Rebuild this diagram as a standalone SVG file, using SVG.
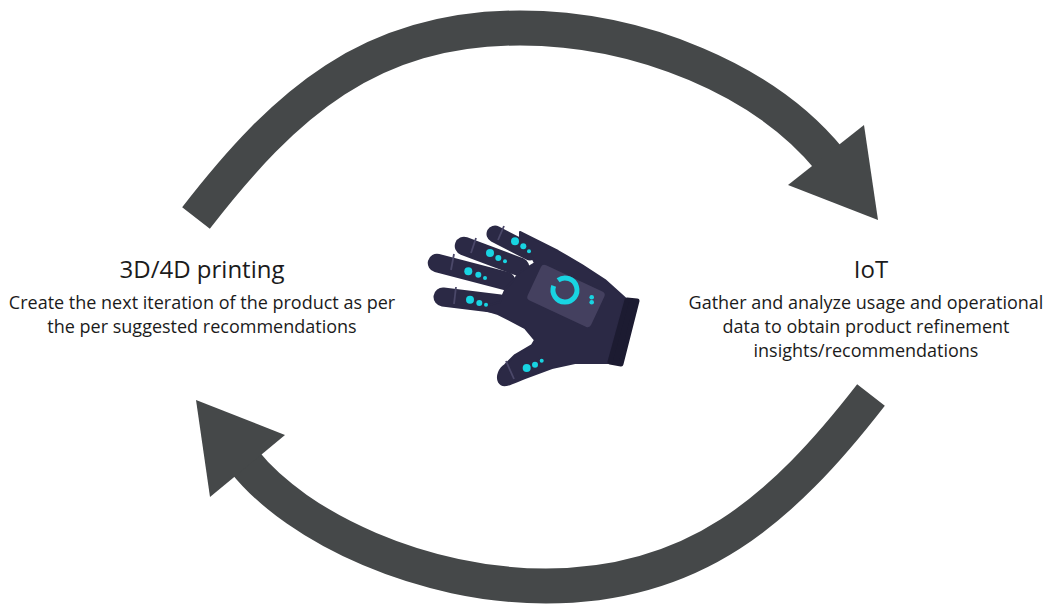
<svg xmlns="http://www.w3.org/2000/svg" width="1054" height="605" viewBox="0 0 1054 605">
  <style>
    .band { fill: none; stroke: #454849; stroke-width: 35; stroke-linecap: butt; }
    .head { fill: #454849; }
    .title { font-family: "Open Sans", "Liberation Sans", sans-serif; font-size: 24px; fill: #1b1b1b; text-anchor: middle; }
    .desc { font-family: "Open Sans", "Liberation Sans", sans-serif; font-size: 18px; fill: #1b1b1b; text-anchor: middle; }
    .finger { stroke: #2b2945; stroke-linecap: round; fill: none; }
    .glove { fill: #2b2945; stroke: #2b2945; stroke-width: 2; stroke-linejoin: round; }
    .dot { fill: #18d4e2; }
    .seam { stroke: #4b4869; stroke-width: 1.8; fill: none; }
  </style>

  <!-- cycle arrows -->
  <g id="connectors">
    <path class="band" d="M196,218 C285,103 370,28 520,28 C640,28 765,80 830,160"/>
    <polygon class="head" points="864,125 878,220 788,185"/>
    <path class="band" d="M871,395 C781,511 694,586 546,586 C424,586 298,529 244,461"/>
    <polygon class="head" points="196,400 285,435 210,497"/>
  </g>

  <!-- left step -->
  <g id="node-printing">
    <text class="title" x="202" y="278">3D/4D printing</text>
    <text class="desc" x="202" y="309">Create the next iteration of the product as per</text>
    <text class="desc" x="202" y="333">the per suggested recommendations</text>
  </g>

  <!-- right step -->
  <g id="node-iot">
    <text class="title" x="871" y="278">IoT</text>
    <text class="desc" x="866" y="309">Gather and analyze usage and operational</text>
    <text class="desc" x="866" y="333">data to obtain product refinement</text>
    <text class="desc" x="866" y="357">insights/recommendations</text>
  </g>

  <!-- smart glove -->
  <g id="node-glove">
    <!-- fingers -->
    <line class="finger" x1="495" y1="234" x2="530" y2="252" stroke-width="17"/>
    <line class="finger" x1="464" y1="246" x2="520" y2="267" stroke-width="18.5"/>
    <line class="finger" x1="437" y1="263" x2="506" y2="281" stroke-width="18.5"/>
    <line class="finger" x1="443" y1="297" x2="500" y2="304" stroke-width="19"/>
    <!-- hand, back and thumb -->
    <path class="glove" d="M520,232 L558,251 L582,265 L605,280 L625,298 L608,363 L575,363 L552,368 L525,378 C512,383 503,389 499,382 C496,376 500,368 505,365 L515,355 L532,345 L535,340 L525,328 L498,314 L478,308 L500,302 L506,288 L513,281 L520,272 L535,263 L528,250 L520,243 Z"/>
    <!-- cuff -->
    <path fill="#1c1b31" stroke="#1c1b31" stroke-width="5" stroke-linejoin="round" d="M627,300 L637,301 L621,364 L610,362 Z"/>
    <!-- fingertip seams -->
    <path class="seam" d="M504,226 L498,240"/>
    <path class="seam" d="M476,238 L471,253"/>
    <path class="seam" d="M454,254 L451,270"/>
    <path class="seam" d="M456,287 L454,304"/>
    <path class="seam" d="M506,361 L514,379"/>
    <!-- device panel -->
    <rect x="-35" y="-19.5" width="70" height="39" rx="4" fill="#44405f" transform="translate(566,296) rotate(25)"/>
    <path d="M558.1,280.2 A12,12 0 1 1 553.7,285.9" fill="none" stroke="#18d4e2" stroke-width="5"/>
    <circle class="dot" cx="591.7" cy="297.3" r="2.3"/>
    <circle class="dot" cx="591.7" cy="302.3" r="2.3"/>
    <!-- sensor dots -->
    <circle class="dot" cx="515" cy="241.3" r="4"/>
    <circle class="dot" cx="523.3" cy="246.3" r="3"/>
    <circle class="dot" cx="529" cy="251.3" r="2"/>
    <circle class="dot" cx="490" cy="253" r="4"/>
    <circle class="dot" cx="498.3" cy="258" r="3"/>
    <circle class="dot" cx="505" cy="261.3" r="2"/>
    <circle class="dot" cx="468.3" cy="271.3" r="4"/>
    <circle class="dot" cx="478.3" cy="274.7" r="3"/>
    <circle class="dot" cx="485" cy="278" r="2"/>
    <circle class="dot" cx="470" cy="299.7" r="4"/>
    <circle class="dot" cx="479.3" cy="303" r="3"/>
    <circle class="dot" cx="486" cy="304.7" r="2"/>
    <circle class="dot" cx="526.7" cy="368" r="4"/>
    <circle class="dot" cx="535" cy="364.7" r="3"/>
    <circle class="dot" cx="541.7" cy="360.7" r="2"/>
  </g>
</svg>
